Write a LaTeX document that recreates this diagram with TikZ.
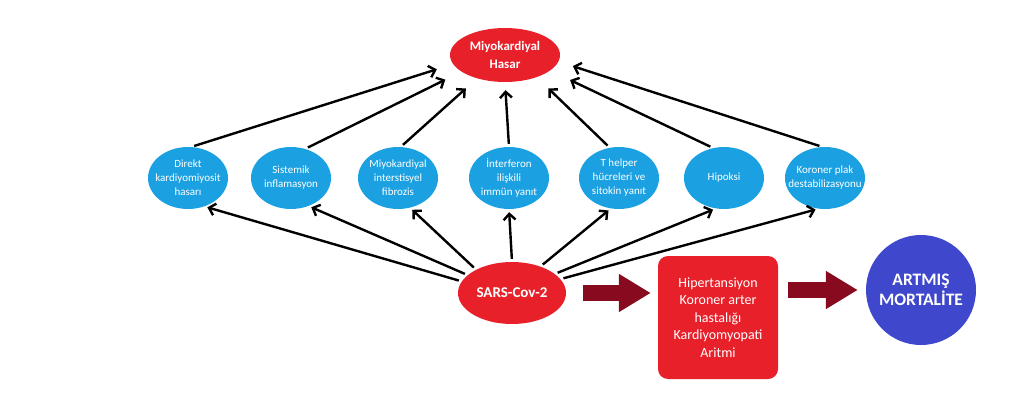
\documentclass[tikz,border=0pt]{standalone}
\usepackage{fontspec}
\setmainfont{Carlito}
\usetikzlibrary{shapes,arrows.meta,positioning}
\definecolor{kirmizi}{RGB}{232,32,42}
\definecolor{mavi}{RGB}{27,161,226}
\definecolor{lacivert}{RGB}{63,72,204}
\definecolor{bordo}{RGB}{136,10,30}
\tikzset{
    etki/.style ={ellipse, fill=mavi, minimum width=80pt, minimum height=62pt, inner sep=0pt},
    etkiyazi/.style ={text=white, align=center, font=\fontsize{11}{14}\selectfont},
    ok/.style={-{Straight Barb[length=6pt,width=12pt]}, line width=2.4pt, shorten <=3pt, shorten >=3pt},
    kalinok/.style={-{Triangle[length=32pt,width=36pt]}, line width=16pt, draw=bordo}
}

\begin{document}
\begin{tikzpicture}[x=1pt, y=-1pt]
\useasboundingbox (0,0) rectangle (1024,409);

% Nodes
\node[ellipse, fill=kirmizi, minimum width=110pt, minimum height=54pt, inner sep=0pt,
  label={[text=white, align=center, font=\bfseries\fontsize{13}{18}\selectfont]center:{Miyokardiyal\\Hasar}}] (H) at (505,55) {};
\node[etki, label={[etkiyazi]center:{Direkt\\kardiyomiyosit\\hasarı}}] (D1) at (188,178) {};
\node[etki, label={[etkiyazi]center:{Sistemik\\inflamasyon}}] (D2) at (291,178) {};
\node[etki, label={[etkiyazi]center:{Miyokardiyal\\interstisyel\\fibrozis}}] (D3) at (398,178) {};
\node[etki, label={[etkiyazi]center:{İnterferon\\ilişkili\\immün yanıt}}] (D4) at (509,178) {};
\node[etki, label={[etkiyazi]center:{T helper\\hücreleri ve\\sitokin yanıt}}] (D5) at (619,178) {};
\node[etki, label={[etkiyazi]center:{Hipoksi}}] (D6) at (724,178) {};
\node[etki, label={[etkiyazi]center:{Koroner plak\\destabilizasyonu}}] (D7) at (825,178) {};
\node[ellipse, fill=kirmizi, minimum width=108pt, minimum height=62pt, inner sep=0pt,
  label={[text=white, font=\bfseries\fontsize{15}{18}\selectfont]center:SARS-Cov-2}] (S) at (512,293) {};
\node[rectangle, rounded corners=10pt, fill=kirmizi, minimum width=120pt, minimum height=123pt,
  text=white, align=center, font=\fontsize{14}{17.5}\selectfont] (K) at (718,317.5)
  {Hipertansiyon\\Koroner arter\\hastalığı\\Kardiyomyopati\\Aritmi};
\node[circle, fill=lacivert, minimum size=110pt, inner sep=0pt, text=white, align=center,
  font=\bfseries\fontsize{17.5}{20}\selectfont] (M) at (921,290) {ARTMIŞ\\MORTALİTE};

% Paths (etkiler -> hasar)
\draw[ok, shorten >=17pt] (D1.84) -- (H.190);
\draw[ok, shorten >=18pt] (D2.64) -- (H.201);
\draw[ok, shorten >=15pt] (D3.85) -- (H.220);
\draw[ok, shorten >=8pt] (D4.90) -- (H.270);
\draw[ok, shorten >=16pt] (D5.107) -- (H.325);
\draw[ok, shorten >=22pt] (D6.110) -- (H.341);
\draw[ok, shorten >=15pt] (D7.95) -- (H.353);

% Paths (SARS-Cov-2 -> etkiler)
\draw[ok] (S.167) -- (D1.-60);
\draw[ok] (S.158) -- (D2.-58);
\draw[ok] (S.147) -- (D3.-68);
\draw[ok] (S.90) -- (D4.-90);
\draw[ok] (S.43) -- (D5.-105);
\draw[ok] (S.24) -- (D6.-105);
\draw[ok] (S.16) -- (D7.-102);

% Kalin oklar
\draw[kalinok, shorten <=17pt, shorten >=7pt] (S.east) -- (S.east -| K.west);
\draw[kalinok, shorten <=10pt, shorten >=8pt] (M.west -| K.east) -- (M.west);

\end{tikzpicture}
\end{document}
